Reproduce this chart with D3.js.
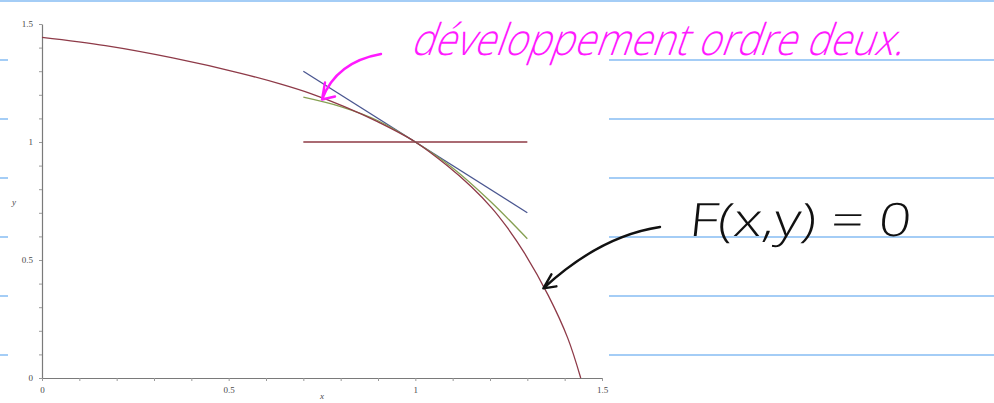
<!DOCTYPE html>
<html>
<head>
<meta charset="utf-8">
<script src="https://cdn.jsdelivr.net/npm/d3@7"></script>
<style>
    html, body { margin: 0; padding: 0; background: #ffffff; }
    svg { display: block; }
</style>
</head>
<body>
<div id="container"></div>
<script>
// implicit curve F(x, y) = 0
const curveX = [0, 0.17, 0.35, 0.53, 0.64, 0.72, 0.81, 0.9, 1.0, 1.085, 1.15, 1.205, 1.245, 1.292, 1.356, 1.408, 1.443];
const curveY = [1.443, 1.408, 1.356, 1.292, 1.245, 1.205, 1.15, 1.085, 1.0, 0.9, 0.81, 0.72, 0.64, 0.53, 0.35, 0.17, 0];
// tangent at (1, 1)
const tangentX = [0.7, 1.3];
const tangentY = [1.3, 0.7];
// second order expansion
const taylorX = [0.7, 0.8, 0.9, 1.0, 1.1, 1.2, 1.3];
const taylorY = [1.19, 1.15, 1.09, 1.0, 0.89, 0.75, 0.59];
// level y = 1
const levelX = [0.7, 1.3];
const levelY = [1, 1];
// axes
const tickValues = [0, 0.1, 0.2, 0.3, 0.4, 0.5, 0.6, 0.7, 0.8, 0.9, 1, 1.1, 1.2, 1.3, 1.4, 1.5];
const tickLabels = ['0', '0.5', '1', '1.5'];

const width = 994, height = 403;

const svg = d3.select('#container')
    .append('svg')
    .attr('width', width)
    .attr('height', height);

const x = d3.scaleLinear().domain([0, 1.5]).range([42, 602]);
const y = d3.scaleLinear().domain([0, 1.5]).range([378, 24]);

// notebook rules
const ruleColor = '#a4cdf6';
svg.append('line')
    .attr('x1', 0).attr('x2', width)
    .attr('y1', 1).attr('y2', 1)
    .attr('stroke', ruleColor)
    .attr('stroke-width', 2);
[60, 119, 178, 237, 296, 355].map(ry => {
    svg.append('line')
        .attr('x1', 0).attr('x2', 8)
        .attr('y1', ry).attr('y2', ry)
        .attr('stroke', ruleColor)
        .attr('stroke-width', 2);
    svg.append('line')
        .attr('x1', 609).attr('x2', width)
        .attr('y1', ry).attr('y2', ry)
        .attr('stroke', ruleColor)
        .attr('stroke-width', 2);
});

// axes
const fmt = d => {
    const s = String(+d.toFixed(1));
    return tickLabels.includes(s) ? s : '';
};
const yAxis = svg.append('g')
    .attr('transform', `translate(${x(0)},0)`)
    .call(d3.axisLeft(y).tickValues(tickValues).tickSize(3).tickSizeOuter(0).tickPadding(6).tickFormat(fmt));
const xAxis = svg.append('g')
    .attr('transform', `translate(0,${y(0)})`)
    .call(d3.axisBottom(x).tickValues(tickValues).tickSize(3).tickSizeOuter(0).tickPadding(6).tickFormat(fmt));
[yAxis, xAxis].map(g => {
    g.select('.domain').attr('stroke', '#7a7a7a').attr('stroke-width', 1.2);
    g.selectAll('.tick line').attr('stroke', '#9a9a9a');
    g.selectAll('.tick text')
        .attr('fill', '#4a4a4a')
        .style('font-family', '"Liberation Serif", "DejaVu Serif", serif')
        .style('font-size', '9px');
});
svg.append('text')
    .text('y')
    .attr('x', 14).attr('y', 205)
    .attr('text-anchor', 'middle')
    .style('font-family', '"Liberation Serif", serif')
    .style('font-style', 'italic')
    .style('font-size', '9px')
    .attr('fill', '#4a4a4a');
svg.append('text')
    .text('x')
    .attr('x', 322).attr('y', 399)
    .attr('text-anchor', 'middle')
    .style('font-family', '"Liberation Serif", serif')
    .style('font-style', 'italic')
    .style('font-size', '9px')
    .attr('fill', '#4a4a4a');

// plotted lines
const line = d3.line()
    .x(d => x(d[0]))
    .y(d => y(d[1]));
const series = [
    { xs: levelX, ys: levelY, color: '#8e3a44', curve: d3.curveLinear },
    { xs: tangentX, ys: tangentY, color: '#4a5690', curve: d3.curveLinear },
    { xs: taylorX, ys: taylorY, color: '#86a052', curve: d3.curveCatmullRom },
    { xs: curveX, ys: curveY, color: '#8e3a48', curve: d3.curveCatmullRom },
];
series.map(s => {
    svg.append('path')
        .datum(s.xs.map((v, i) => [v, s.ys[i]]))
        .attr('d', line.curve(s.curve))
        .attr('fill', 'none')
        .attr('stroke', s.color)
        .attr('stroke-width', 1.3);
});

// handwritten notes
const hand = '"Open Sans", "DejaVu Sans", sans-serif';
const magenta = '#ff1aff';
svg.append('text')
    .text('développement ordre deux.')
    .attr('transform', 'translate(410,55) skewX(-20) scale(1,1.15)')
    .attr('textLength', 492)
    .attr('lengthAdjust', 'spacingAndGlyphs')
    .style('font-family', hand)
    .style('font-weight', 300)
    .style('font-size', '38px')
    .attr('fill', magenta);
svg.append('text')
    .text('F(x,y) = 0')
    .attr('transform', 'translate(688,236) skewX(-6)')
    .attr('textLength', 222)
    .attr('lengthAdjust', 'spacingAndGlyphs')
    .style('font-family', hand)
    .style('font-weight', 300)
    .style('font-size', '46px')
    .attr('fill', '#111111');

// arrows pointing at the curves
const arrow = (from, ctrl, tip, barbs, color) => {
    const p = d3.path();
    p.moveTo(from[0], from[1]);
    p.quadraticCurveTo(ctrl[0], ctrl[1], tip[0], tip[1]);
    barbs.map(b => {
        p.moveTo(tip[0], tip[1]);
        p.lineTo(tip[0] + b[0], tip[1] + b[1]);
    });
    svg.append('path')
        .attr('d', p.toString())
        .attr('fill', 'none')
        .attr('stroke', color)
        .attr('stroke-width', 2.4)
        .attr('stroke-linecap', 'round')
        .attr('stroke-linejoin', 'round');
};
const pinkTip = [x(0.75), y(1.18)];
arrow([381, 54], [336, 62], pinkTip, [[3, -17], [13, -3]], magenta);
const blackTip = [x(1.343), y(0.38)];
arrow([660, 227], [600, 236], blackTip, [[8, -14], [13, -2]], '#111111');
</script>
</body>
</html>
